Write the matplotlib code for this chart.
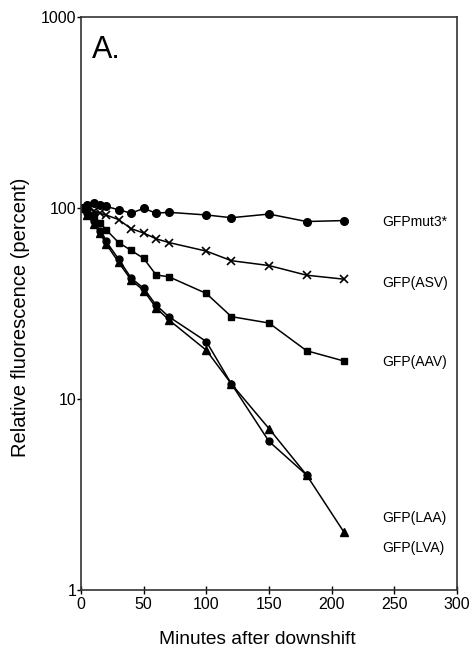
import numpy as np
import matplotlib
matplotlib.use("Agg")
import matplotlib.pyplot as plt
from matplotlib.ticker import FixedLocator, FixedFormatter, NullLocator

plt.rcParams["font.family"] = ["Liberation Sans", "DejaVu Sans"]

# minutes after downshift
minutes = [0, 5, 10, 15, 20, 30, 40, 50, 60, 70, 100, 120, 150, 180, 210]

mut3 = [100, 104, 106, 104, 102, 98, 94, 99.6, 94, 95, 92, 89, 93, 85, 86]
asv = [100, 99, 97, 94, 92, 87, 78, 74, 69, 66, 59.5, 53, 50, 44.5, 42.4]
aav = [100, 96, 92, 84, 77, 66, 60, 54.5, 44.6, 43.7, 35.7, 27, 25, 17.9, 15.8]
laa = [100, 92, 83, 74, 65, 52, 42, 37, 30, 26, 18, 12, 7, 4, 2]
lva_minutes = minutes[:-1]
lva = [100, 94, 86, 76, 67, 54, 43, 38, 31, 27, 20, 12, 6, 4]

series_labels = ["GFPmut3*", "GFP(ASV)", "GFP(AAV)", "GFP(LAA)", "GFP(LVA)"]
label_y = [84.5, 40.5, 15.6, 2.38, 1.66]

x_ticks = [0, 50, 100, 150, 200, 250, 300]
y_ticks = [1, 10, 100, 1000]

fig = plt.figure(figsize=(4.72, 6.57), dpi=100)
ax = fig.add_axes([0.1716, 0.102, 0.7966, 0.872])

kw = dict(color="black", lw=1.1)
ax.plot(minutes, mut3, marker="o", ms=5.5, **kw)
ax.plot(minutes, asv, marker="x", ms=6, mew=1.2, **kw)
ax.plot(minutes, aav, marker="s", ms=5, **kw)
ax.plot(lva_minutes, lva, marker="o", ms=5, **kw)
ax.plot(minutes, laa, marker="^", ms=6, **kw)

for lab, yv in zip(series_labels, label_y):
    ax.text(240, yv, lab, fontsize=10, va="center", ha="left")

ax.text(9, 671, "A.", fontsize=22, va="center", ha="left")

ax.set_yscale("log")
ax.set_xlim(0, 300)
ax.set_ylim(1, 1000)
ax.xaxis.set_major_locator(FixedLocator(x_ticks))
ax.yaxis.set_major_locator(FixedLocator(y_ticks))
ax.yaxis.set_major_formatter(FixedFormatter([str(v) for v in y_ticks]))
ax.yaxis.set_minor_locator(NullLocator())
ax.tick_params(axis="x", direction="inout", length=6, width=1, labelsize=11.5, pad=2)
ax.tick_params(axis="y", direction="out", length=3, width=1, labelsize=11.5, pad=0.5)

for s in ax.spines.values():
    s.set_linewidth(1.2)
    s.set_color("#333333")

ax.set_xlabel("Minutes after downshift", fontsize=13.8)
ax.set_ylabel("Relative fluorescence (percent)", fontsize=14.5)
ax.xaxis.set_label_coords(0.468, -0.072)
ax.yaxis.set_label_coords(-0.135, 0.476)

fig.savefig("out.png", dpi=100)
